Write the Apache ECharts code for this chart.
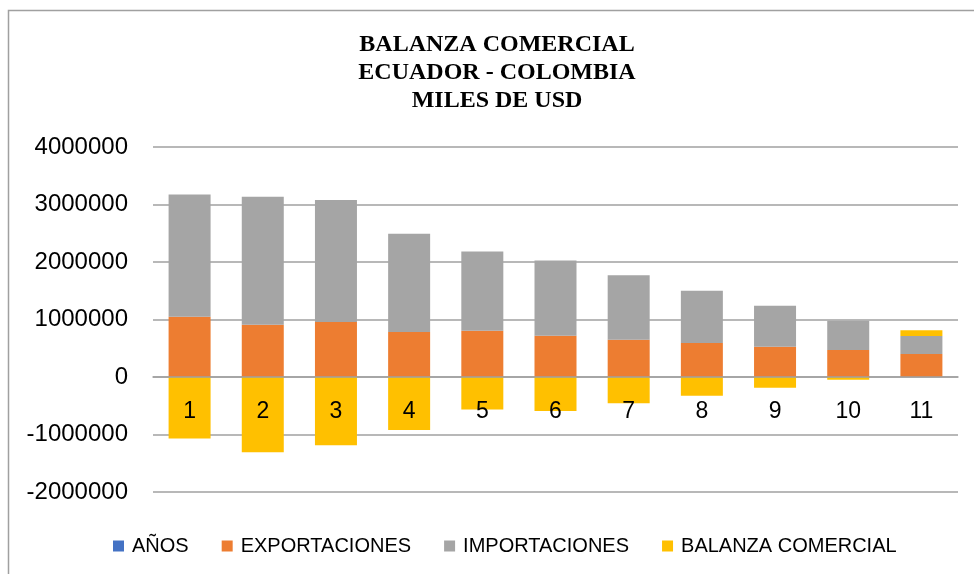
<!DOCTYPE html>
<html>
<head>
<meta charset="utf-8">
<script src="https://cdn.jsdelivr.net/npm/echarts@6/dist/echarts.min.js"></script>
<style>
  html, body { margin: 0; padding: 0; background: #fff; }
  #chart1 { width: 974px; height: 574px; }
</style>
</head>
<body>
<div id="chart1"></div>
<script>
// datos
var categorias = ['1', '2', '3', '4', '5', '6', '7', '8', '9', '10', '11'];
var anios = [1, 2, 3, 4, 5, 6, 7, 8, 9, 10, 11];
var exportaciones = [1048000, 909000, 955000, 782000, 805000, 718000, 649000, 591000, 528000, 470000, 400000];
var importaciones = [2125000, 2224000, 2125000, 1708000, 1378000, 1309000, 1119000, 910000, 713000, 510000, 313000];
var balanza = [-1071000, -1309000, -1187000, -921000, -567000, -591000, -458000, -325000, -186000, -46000, 99000];

var fuente = 'Liberation Sans';

var myChart1 = echarts.init(document.getElementById('chart1'));
var option1 = {
    animation: false,
    color: ['#4472C4', '#ED7D31', '#A5A5A5', '#FFC000'],
    graphic: [
        {
            type: 'rect',
            silent: true,
            shape: { x: 8.5, y: 10.5, width: 1000, height: 700 },
            style: { fill: 'none', stroke: '#a0a0a0', lineWidth: 1.5 }
        },
        {
            // titulo centrado sobre el area del grafico
            type: 'text',
            x: 497,
            y: 31,
            style: {
                text: 'BALANZA COMERCIAL\nECUADOR - COLOMBIA\nMILES DE USD',
                align: 'center',
                verticalAlign: 'top',
                fontFamily: 'Liberation Serif',
                fontWeight: 'bold',
                fontSize: 24,
                lineHeight: 28,
                fill: '#000'
            }
        }
    ],
    legend: {
        left: 108,
        top: 531,
        itemWidth: 11,
        itemHeight: 11,
        itemGap: 33,
        icon: 'rect',
        textStyle: {
            fontFamily: fuente,
            fontSize: 20,
            color: '#000',
            padding: [0, 0, 0, 3]
        },
        data: ['AÑOS', 'EXPORTACIONES', 'IMPORTACIONES', 'BALANZA COMERCIAL']
    },
    grid: {
        left: 153,
        right: 16,
        top: 147,
        bottom: 82,
        containLabel: false
    },
    xAxis: {
        type: 'category',
        data: categorias,
        z: 10,
        offset: -115,
        axisLine: { show: true, onZero: false, lineStyle: { color: '#a0a0a0', width: 1.5 } },
        axisTick: { show: false },
        axisLabel: {
            margin: 23,
            fontFamily: fuente,
            fontSize: 23,
            color: '#000'
        }
    },
    yAxis: {
        type: 'value',
        min: -2000000,
        max: 4000000,
        interval: 1000000,
        axisLine: { show: false },
        axisTick: { show: false },
        splitLine: { lineStyle: { color: '#a0a0a0', width: 1.5 } },
        axisLabel: {
            margin: 25,
            fontFamily: fuente,
            fontSize: 24,
            color: '#000',
            formatter: function (v) { return String(v); }
        }
    },
    series: [
        {
            name: 'AÑOS',
            type: 'bar',
            stack: 'total',
            barWidth: 42,
            data: anios
        },
        {
            name: 'EXPORTACIONES',
            type: 'bar',
            stack: 'total',
            barWidth: 42,
            data: exportaciones
        },
        {
            name: 'IMPORTACIONES',
            type: 'bar',
            stack: 'total',
            barWidth: 42,
            data: importaciones
        },
        {
            name: 'BALANZA COMERCIAL',
            type: 'bar',
            stack: 'total',
            barWidth: 42,
            data: balanza
        }
    ]
};
myChart1.setOption(option1);
</script>
</body>
</html>
